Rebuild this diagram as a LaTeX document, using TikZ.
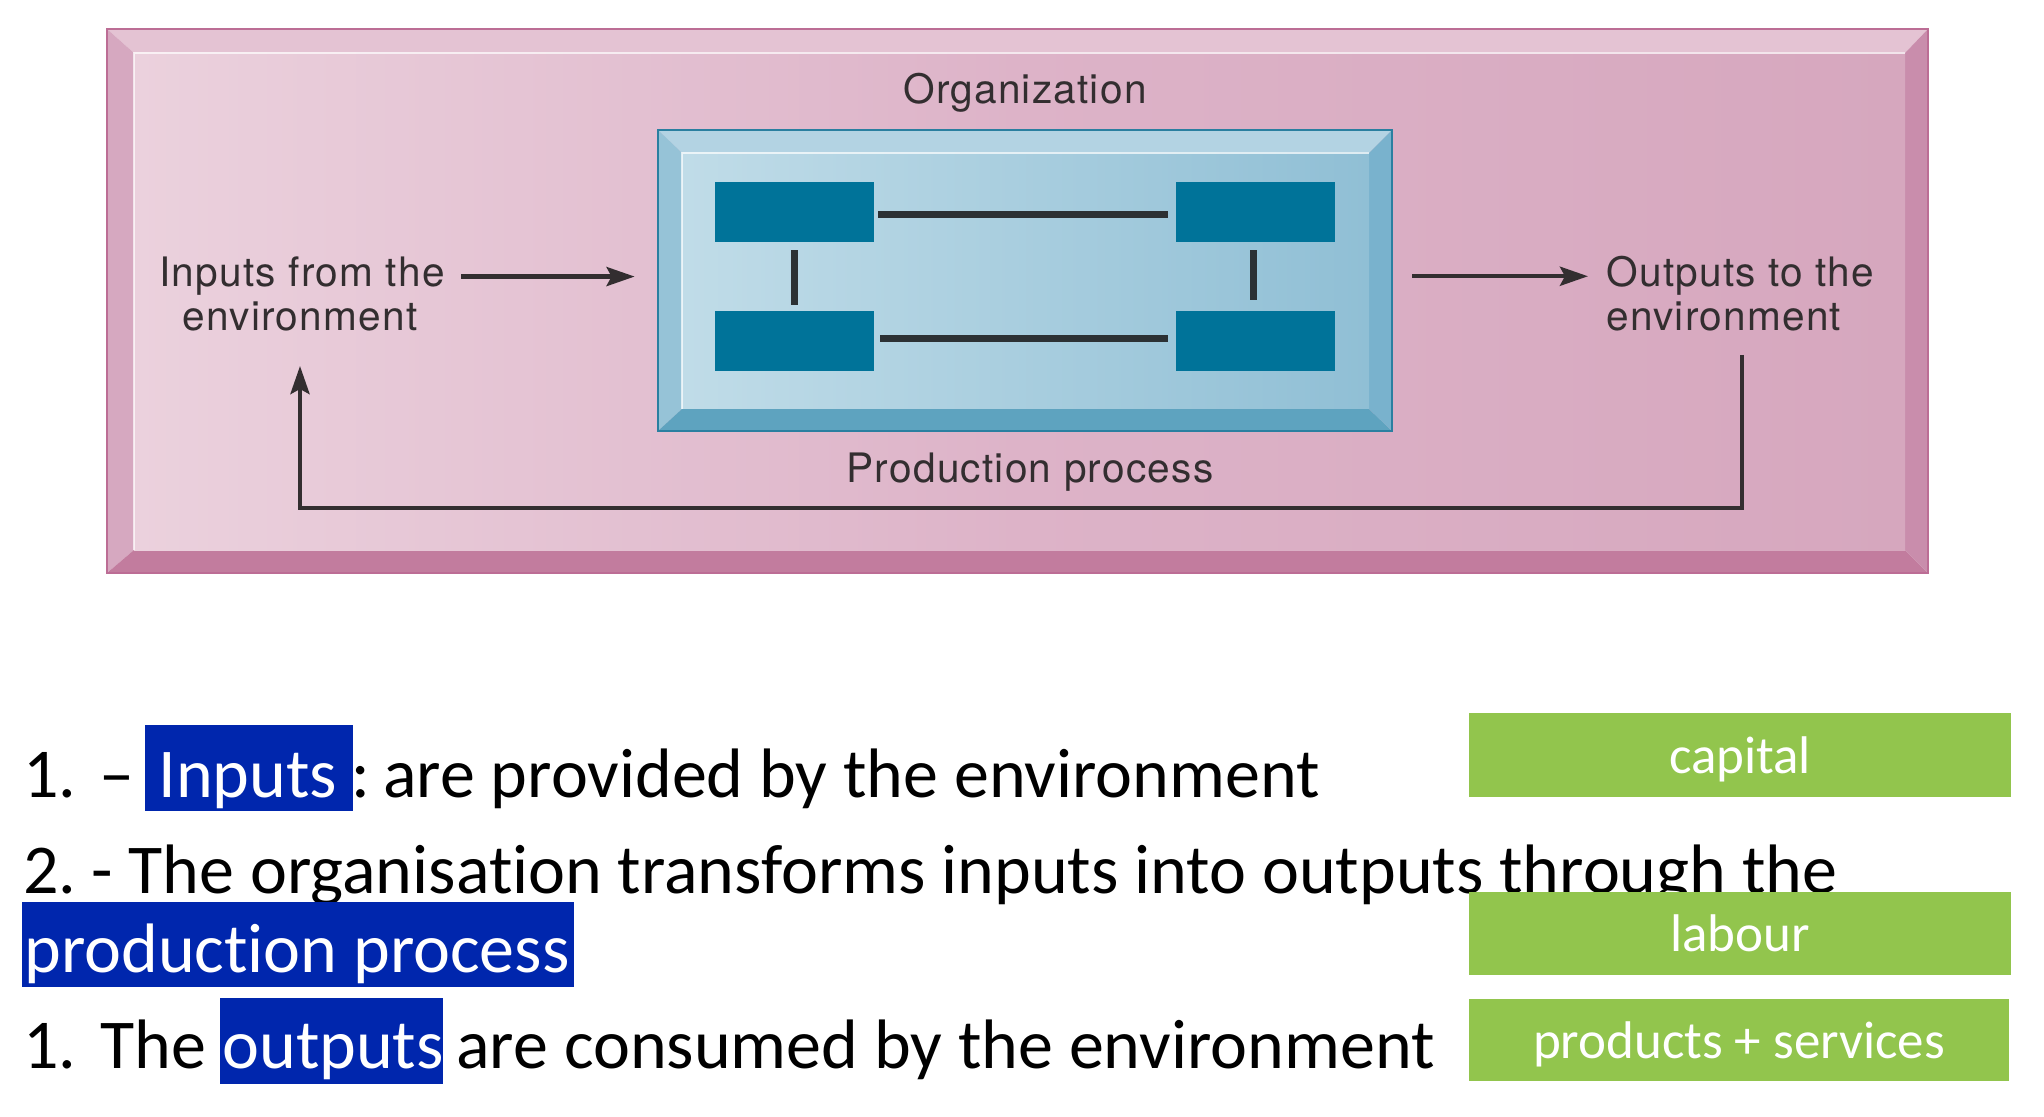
\documentclass[tikz,border=0pt]{standalone}
\usepackage{fontspec}
\setmainfont{Carlito}[Ligatures=NoCommon]
\newfontfamily\helv[LetterSpace=3]{TeX Gyre Heros}
\usetikzlibrary{arrows.meta}
\definecolor{pinkTop}{HTML}{E4C3D3}
\definecolor{pinkLeft}{HTML}{D6A8C0}
\definecolor{pinkBot}{HTML}{C27C9E}
\definecolor{pinkRight}{HTML}{C98DAC}
\definecolor{pinkL}{HTML}{EBD1DD}
\definecolor{pinkM}{HTML}{DDB3C8}
\definecolor{pinkR}{HTML}{D6A7BE}
\definecolor{pinkEdge}{HTML}{BC6D95}
\definecolor{bTop}{HTML}{B3D3E3}
\definecolor{bLeft}{HTML}{96C3D7}
\definecolor{bBot}{HTML}{5EA3BF}
\definecolor{bRight}{HTML}{79B2CD}
\definecolor{bL}{HTML}{C0DCE8}
\definecolor{bR}{HTML}{90BFD5}
\definecolor{bEdge}{HTML}{2A7FA0}
\definecolor{blockteal}{HTML}{007399}
\definecolor{linkgray}{HTML}{2C3134}
\definecolor{txtgray}{HTML}{332E30}
\definecolor{hlblue}{RGB}{0,38,173}
\definecolor{boxgreen}{HTML}{92C54D}
\begin{document}
\begin{tikzpicture}[x=0.5pt,y=-0.5pt,
  lbl/.style={font=\helv\fontsize{20.3}{22}\selectfont, text=txtgray, inner sep=0pt},
  blk/.style={fill=blockteal, draw=none, minimum width=79.5pt, minimum height=30pt, inner sep=0pt},
  link/.style={line width=3.5pt, draw=linkgray},
  tip/.style={-{Stealth[length=14pt,width=9.5pt,inset=2.5pt]}},
  arr/.style={line width=2.2pt, draw=txtgray, tip},
  body/.style={font=\fontsize{35}{42}\selectfont, inner sep=0pt, anchor=base west, text=black},
  hltext/.style={body, text=white},
  hl/.style={fill=hlblue},
  gbox/.style={fill=boxgreen, draw=none, minimum width=271pt, minimum height=42pt, inner sep=0pt,
    text=white, font=\fontsize{26.5}{30}\selectfont, text height=22pt, text depth=4pt}
]
\useasboundingbox (0,0) rectangle (2044,1117);
\fill[white] (0,0) rectangle (2044,1117);

% ---------- pink organisation box ----------
\fill[pinkTop]   (107,29) -- (1928,29) -- (1905,53) -- (134,53) -- cycle;
\fill[pinkLeft]  (107,29) -- (134,53) -- (134,550) -- (107,573) -- cycle;
\fill[pinkBot]   (107,573) -- (134,550) -- (1905,550) -- (1928,573) -- cycle;
\fill[pinkRight] (1928,29) -- (1928,573) -- (1905,550) -- (1905,53) -- cycle;
\shade[left color=pinkL, right color=pinkM] (134,53) rectangle (1020,550);
\shade[left color=pinkM, right color=pinkR] (1019,53) rectangle (1905,550);
\draw[white, opacity=0.7, line width=1.2pt] (134,550) -- (134,53) -- (1905,53);
\draw[pinkEdge, line width=0.8pt] (107,29) rectangle (1928,573);

\node[lbl, anchor=base] (org) at (1025,104) {Organization};
\node[lbl, anchor=base] (prod) at (1030,482) {Production process};

% ---------- blue production box ----------
\fill[bTop]   (658,130) -- (1392,130) -- (1369,153) -- (682,153) -- cycle;
\fill[bLeft]  (658,130) -- (682,153) -- (682,409) -- (658,431) -- cycle;
\fill[bBot]   (658,431) -- (682,409) -- (1369,409) -- (1392,431) -- cycle;
\fill[bRight] (1392,130) -- (1392,431) -- (1369,409) -- (1369,153) -- cycle;
\shade[left color=bL, right color=bR] (682,153) rectangle (1369,409);
\draw[white, opacity=0.7, line width=1pt] (682,409) -- (682,153) -- (1369,153);
\draw[bEdge, line width=0.8pt] (658,130) rectangle (1392,431);
\node[minimum width=367pt, minimum height=150.5pt, inner sep=0pt] (pp) at (1025,280.5) {};

\node[blk] (tl) at (794.5,212) {};
\node[blk] (tr) at (1255.5,212) {};
\node[blk] (bl) at (794.5,341.5) {};
\node[blk] (br) at (1255.5,341.5) {};
\draw[link, shorten <=2pt, shorten >=4pt] ([yshift=-1.5pt]tl.east) -- ([yshift=-1.5pt]tr.west);
\draw[link, shorten <=3pt, shorten >=4pt] ([yshift=1.5pt]bl.east) -- ([yshift=1.5pt]br.west);
\draw[link, shorten <=4pt, shorten >=3pt] (tl.south) -- (bl.north);
\draw[link, shorten <=4pt, shorten >=5.5pt] ([xshift=-1pt]tr.south) -- ([xshift=-1pt]br.north);

% ---------- labels and arrows ----------
\node[lbl, anchor=base] (in1) at (302,287) {Inputs from the};
\node[lbl, anchor=base] (in2) at (300,331) {environment};
\node[lbl, anchor=base west] (out1) at (1606,287) {Outputs to the};
\node[lbl, anchor=base west] (out2) at (1606,331) {environment};

\draw[arr, shorten <=8pt, shorten >=11.5pt] (in1.east) -- (in1.east -| pp.west);
\draw[arr, shorten <=10pt, shorten >=9pt] (pp.east |- out1.west) -- (out1.west);
\coordinate (fb) at (1742,355);
\draw[arr, shorten >=17pt] (fb) -- ++(0,153) -| (in2.south);

% ---------- lower text ----------
\node[body] (n1) at (23,797) {1.};
\node[body] (d1) at (99,797) {–};
\fill[hl] (145,725) rectangle (353,811);
\node[hltext] (w1) at (158,797) {Inputs};
\node[body] (r1) at (351,797) {:\hspace{-4pt} are provided by the environment};

\node[body] (l2) at (23,893) {2.\hspace{-3pt} - The organisation transforms inputs into outputs through the};

\fill[hl] (22,902) rectangle (574,987);
\node[hltext] (w2) at (24,972) {production process};

\node[body] (n3) at (23,1068) {1.};
\node[body] (the3) at (100,1068) {The};
\fill[hl] (220,998) rectangle (443,1084);
\node[hltext] (w3) at (222,1068) {outputs};
\node[body] (r3) at (456,1068) {are consumed by the environment};

% ---------- green boxes ----------
\node[gbox] (cap) at (1740,755) {capital};
\node[gbox, minimum height=41.5pt] (lab) at (1740,933.5) {labour};
\node[gbox, minimum width=270pt, minimum height=41pt] (ps) at (1739,1040) {products + services};
\end{tikzpicture}
\end{document}
